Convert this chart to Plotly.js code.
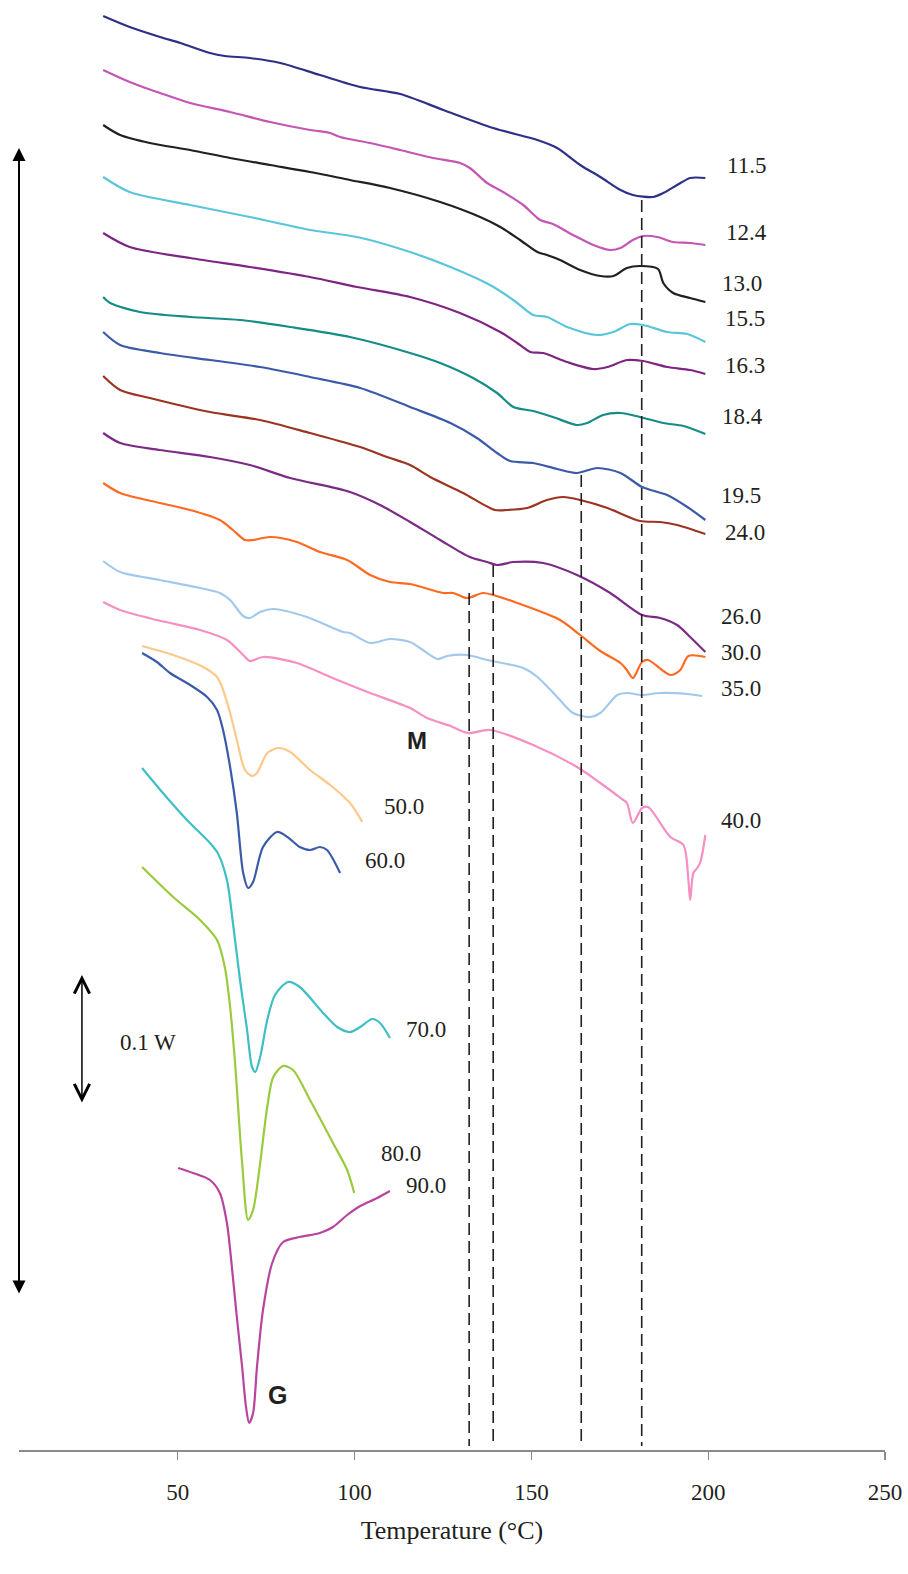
<!DOCTYPE html>
<html>
<head>
<meta charset="utf-8">
<script src="https://cdn.plot.ly/plotly-3.0.1.min.js"></script>
<style>html,body{margin:0;padding:0;background:#fff;}#chart{width:908px;height:1574px;}</style>
</head>
<body>
<div id="chart"></div>
<script>
// Water content labels (%) of each DSC trace
const seriesLabels = ['11.5','12.4','13.0','15.5','16.3','18.4','19.5','24.0','26.0','30.0','35.0','40.0','50.0','60.0','70.0','80.0','90.0'];
const seriesColors = ['#2E3087','#C456B4','#231F20','#5BC5DC','#7E2482','#168C86','#3C5AAA','#9B3420','#7B2A86','#FF6A21','#A2C9EC','#F68FC2','#FDC88C','#3C5AAA','#3DBFC4','#9BCB3C','#B7449E'];

// Temperature (°C) and vertical heat-flow offset (display units, exo up = smaller value) of each trace
const t115 = [28.9,36.4,45.0,50.7,59.1,63.3,70.4,79.0,90.2,101.6,112.9,125.1,139.2,151.7,157.3,163.8,169.5,175.2,178.7,184.4,187.3,191.2,194.9,199.2];
const h115 = [16,27,37,43,53,56,58,63,75,87,94,110,128,140,148,165,177,190,195,197,193,185,178,178];

const t124 = [28.9,36.4,45.0,53.5,64.8,76.1,87.4,93.1,95.9,104.4,112.9,122.2,129.8,132.6,137.5,142.0,147.7,152.5,156.1,161.8,167.5,172.3,175.2,178.7,181.6,185.6,190.1,194.9,199.2];
const h124 = [70,82,93,103,112,122,130,133,137,143,150,158,163,168,183,192,205,220,224,235,245,250,248,240,236,237,242,243,245];

const t130 = [28.9,33.7,42.1,53.5,64.8,76.1,87.4,98.7,110.0,124.2,135.5,141.2,146.8,151.7,154.4,158.1,163.8,169.5,173.2,177.0,180.7,185.8,187.3,190.1,194.9,199.2];
const h130 = [125,135,143,150,158,165,172,180,188,202,217,227,240,252,255,260,270,276,276,268,266,269,283,293,298,302];

const t155 = [28.9,36.4,53.5,70.4,87.4,100.7,115.7,127.1,138.3,144.9,150.5,154.4,160.1,168.6,173.2,177.9,181.6,188.4,194.1,199.2];
const h155 = [177,192,205,217,230,237,252,267,285,300,315,317,327,335,332,324,325,332,334,342];

const t163 = [28.9,36.4,53.5,70.4,87.4,100.7,115.7,129.8,141.2,146.0,149.7,153.3,160.1,167.5,171.5,177.0,181.6,188.4,194.9,199.2];
const h163 = [233,247,258,267,277,287,297,313,332,343,352,353,362,369,367,360,361,367,370,374];

const t184 = [28.9,30.9,39.3,53.5,67.6,81.8,98.7,115.7,124.2,133.5,140.3,144.9,150.5,156.1,162.9,165.8,170.3,175.2,180.7,187.3,193.0,199.2];
const h184 = [297,303,312,317,320,327,337,353,363,378,393,407,411,417,425,423,415,413,417,423,426,434];

const t195 = [28.9,33.7,45.0,59.1,73.3,87.4,101.6,115.7,127.1,134.6,140.3,144.0,150.5,157.3,162.9,168.6,175.2,181.3,188.4,194.1,199.2];
const h195 = [332,345,353,360,367,377,388,407,423,438,453,461,463,469,473,468,473,487,495,507,520];

const t240 = [28.9,33.7,42.1,59.1,73.3,87.4,101.6,109.2,115.7,121.4,130.7,139.7,143.2,148.8,154.4,159.0,163.8,171.5,180.7,186.4,191.2,199.2];
const h240 = [376,390,398,412,420,433,447,457,465,477,493,510,510,508,500,497,500,508,521,522,525,534];

const t260 = [28.9,33.7,45.0,59.1,70.4,81.8,98.7,107.2,115.7,124.2,132.6,137.5,140.3,144.9,153.3,162.9,172.3,181.3,186.4,191.2,194.9,199.2];
const h260 = [433,443,450,457,465,478,492,505,522,540,557,562,565,562,563,575,593,615,618,625,637,652];

const t300 = [28.9,33.7,45.0,53.5,61.9,65.6,69.0,71.3,76.1,83.7,90.2,97.9,104.4,110.0,115.7,125.1,127.9,131.8,136.3,139.2,146.0,158.1,163.8,169.5,175.2,177.0,178.7,181.3,183.0,189.3,192.1,194.4,199.2];
const h300 = [483,493,503,510,520,530,540,540,537,542,552,560,575,582,584,593,593,598,593,595,603,620,635,651,663,670,678,662,660,675,670,656,657];

const t350 = [28.9,33.7,45.0,56.3,61.9,64.8,68.5,70.4,73.3,77.0,86.5,96.8,98.7,104.4,110.0,115.7,118.5,123.4,126.2,131.8,137.5,147.7,151.7,157.3,161.8,166.6,169.5,174.3,177.0,181.3,186.4,194.1,198.3];
const h350 = [561,572,580,588,593,600,616,618,612,609,617,632,633,643,639,642,648,659,656,655,660,668,677,697,713,717,713,695,693,695,693,694,696];

const t400 = [28.9,33.7,44.1,56.3,63.9,68.5,70.4,74.1,83.7,93.1,104.4,115.7,120.5,127.1,132.1,138.3,150.5,162.9,169.5,175.2,177.0,178.7,181.3,183.0,189.3,193.0,194.4,194.9,195.8,196.9,197.8,199.2];
const h400 = [602,610,620,630,640,655,661,657,663,677,693,708,718,726,733,730,745,767,783,798,803,823,808,807,837,845,880,900,873,868,862,835];

const t500 = [39.9,48.7,57.2,61.1,62.8,64.8,66.7,69.0,71.0,72.4,75.3,78.4,81.8,87.4,93.1,98.7,102.2];
const h500 = [646,655,667,677,690,713,740,770,776,773,753,748,752,770,785,803,822];

const t600 = [39.9,44.1,47.8,53.5,58.3,61.1,62.8,64.8,66.7,68.5,69.9,71.3,74.1,78.1,81.0,84.5,87.4,90.2,92.2,95.9];
const h600 = [653,662,673,685,697,710,730,767,813,873,888,882,847,832,837,847,850,847,850,873];

const t700 = [39.9,45.8,52.6,59.1,61.3,63.9,65.6,67.6,69.6,71.0,71.9,73.3,75.3,77.5,81.2,84.5,91.1,95.1,98.7,101.6,105.0,107.2,110.0];
const h700 = [768,793,820,843,853,880,923,980,1030,1067,1072,1057,1020,995,982,987,1013,1027,1032,1027,1019,1023,1038];

const t800 = [39.9,48.7,56.3,61.1,63.3,64.8,66.2,68.2,69.9,71.3,73.3,75.3,77.0,79.8,82.6,87.4,93.9,97.9,99.9];
const h800 = [867,897,920,940,967,1007,1063,1163,1220,1210,1163,1107,1077,1066,1070,1100,1143,1170,1193];

const t900 = [50.1,54.3,59.1,61.9,63.9,65.3,66.7,68.2,69.3,70.2,71.3,72.4,74.1,76.7,79.8,84.5,90.2,93.9,97.9,101.6,106.4,110.0];
const h900 = [1168,1173,1180,1193,1223,1267,1317,1367,1407,1423,1413,1367,1310,1263,1242,1237,1233,1227,1215,1206,1198,1191];

// Transition temperatures marked by dashed lines (°C)
const transitionT = [132.4, 139.2, 164.1, 181.2];
const xTickVals = [50, 100, 150, 200, 250];
const xTickText = ['50', '100', '150', '200', '250'];

const xs = [t115,t124,t130,t155,t163,t184,t195,t240,t260,t300,t350,t400,t500,t600,t700,t800,t900];
const ys = [h115,h124,h130,h155,h163,h184,h195,h240,h260,h300,h350,h400,h500,h600,h700,h800,h900];

const traces = xs.map((x, i) => ({
  x: x, y: ys[i], type: 'scatter', mode: 'lines', name: seriesLabels[i],
  line: {color: seriesColors[i], width: 2.2, shape: 'spline', smoothing: 0.8},
  hoverinfo: 'skip', showlegend: false
}));

const serif = 'Liberation Serif, Times New Roman, serif';
const txt = '#231F20';

// label placement (temperature, offset)
const labelPos = [
  [210.7,165],[210.7,232],[209.6,283],[210.4,318],[210.4,365],[209.6,416],
  [209.3,495],[210.4,532],[209.3,616],[209.3,652],[209.3,688],[209.3,820],
  [114.1,806],[108.7,860],[120.3,1029],[113.1,1153],[120.3,1185]
];
const annotations = seriesLabels.map((s, i) => ({
  x: labelPos[i][0], y: labelPos[i][1], xref: 'x', yref: 'y', text: s,
  showarrow: false, xanchor: 'center', yanchor: 'middle',
  font: {family: serif, size: 23, color: txt}
}));
annotations.push(
  {x: 117.7, y: 740, xref: 'x', yref: 'y', text: '<b>M</b>', showarrow: false,
   font: {family: 'Liberation Sans, Arial, sans-serif', size: 24, color: txt}},
  {x: 78.3, y: 1395, xref: 'x', yref: 'y', text: '<b>G</b>', showarrow: false,
   font: {family: 'Liberation Sans, Arial, sans-serif', size: 25, color: txt}},
  {x: 41.6, y: 1042, xref: 'x', yref: 'y', text: '0.1 W', showarrow: false,
   font: {family: serif, size: 23, color: txt}},
  {x: 5.1, y: 148, ax: 5.1, ay: 1295, xref: 'x', yref: 'y', axref: 'x', ayref: 'y',
   text: '', showarrow: true, arrowside: 'end+start', arrowhead: 2, arrowsize: 1.3,
   arrowwidth: 2, arrowcolor: '#000'},
  {x: 22.9, y: 975, ax: 22.9, ay: 1104, xref: 'x', yref: 'y', axref: 'x', ayref: 'y',
   text: '', showarrow: true, arrowside: 'end+start', arrowhead: 5, arrowsize: 2,
   arrowwidth: 1.5, arrowcolor: '#000'}
);

const tops = [593, 565, 475, 200];
const shapes = transitionT.map((t, i) => ({
  type: 'line', xref: 'x', yref: 'y', x0: t, x1: t, y0: tops[i], y1: 1446,
  line: {color: txt, width: 1.6, dash: '12px,6px'}
}));

const layout = {
  width: 908, height: 1574,
  margin: {l: 19, r: 23, t: 0, b: 124},
  paper_bgcolor: '#fff', plot_bgcolor: '#fff',
  showlegend: false,
  xaxis: {
    range: [5.1, 250], showgrid: false, zeroline: false,
    showline: true, linecolor: '#8a8a8a', linewidth: 1.5,
    ticks: 'outside', ticklen: 8, tickcolor: '#8a8a8a', tickwidth: 1.2,
    tickvals: xTickVals, ticktext: xTickText,
    tickfont: {family: serif, size: 23, color: txt},
    ticklabelstandoff: 13,
    title: {text: 'Temperature (°C)', font: {family: serif, size: 26, color: txt}, standoff: 16}
  },
  yaxis: {range: [1450, 0], visible: false, showgrid: false, zeroline: false},
  annotations: annotations,
  shapes: shapes
};

Plotly.newPlot('chart', traces, layout, {staticPlot: true, displayModeBar: false});
</script>
</body>
</html>
